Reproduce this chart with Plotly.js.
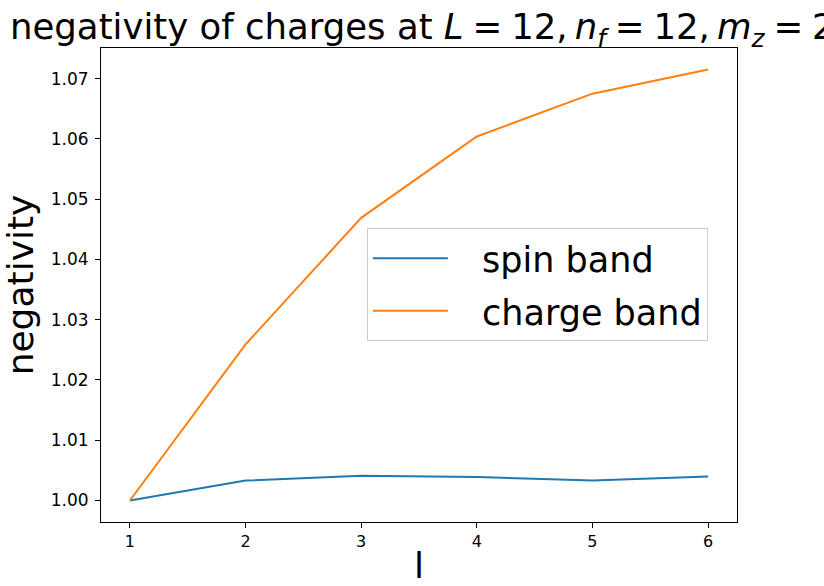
<!DOCTYPE html>
<html>
<head>
<meta charset="utf-8">
<script src="https://cdn.plot.ly/plotly-3.0.1.min.js"></script>
<style>html,body{margin:0;padding:0;background:#fff;}#chart{width:824px;height:586px;}</style>
</head>
<body>
<div id="chart"></div>
<script>
const lValues = [1, 2, 3, 4, 5, 6];
const spinBand = [1.0000, 1.0033, 1.0041, 1.0039, 1.0033, 1.0040];
const chargeBand = [1.0000, 1.0259, 1.0469, 1.0604, 1.0675, 1.0715];
const seriesNames = ['spin band', 'charge band'];
const xTicks = [1, 2, 3, 4, 5, 6];
const yTicks = [1.00, 1.01, 1.02, 1.03, 1.04, 1.05, 1.06, 1.07];

const font = 'DejaVu Sans, sans-serif';
const pad = '\u00a0\u00a0\u2009';
const eq = '\u2005=\u2005';
const traces = [
  {x: lValues, y: spinBand, name: pad + seriesNames[0], mode: 'lines', legendgroup: 'a',
   line: {color: '#1f77b4', width: 2}},
  {x: lValues, y: chargeBand, name: pad + seriesNames[1], mode: 'lines', legendgroup: 'b',
   line: {color: '#ff7f0e', width: 2}}
];
const layout = {
  width: 824, height: 586,
  margin: {l: 101, r: 87, t: 48, b: 64},
  paper_bgcolor: '#fff', plot_bgcolor: '#fff',
  font: {family: font, color: '#000'},
  title: {
    text: 'negativity of charges at <i>L</i>' + eq + '12,\u2009<i>n</i><sub><i>f</i></sub>' + eq + '12,\u2009<i>m</i><sub><i>z</i></sub>' + eq + '2',
    font: {size: 35.5, family: font, color: '#000'},
    x: 10/824, xanchor: 'left', xref: 'container',
    y: 1 - 27/586, yanchor: 'middle', yref: 'container'
  },
  xaxis: {
    range: [0.75, 6.25], tickvals: xTicks, ticktext: xTicks.map(String),
    showgrid: false, zeroline: false, showline: true, mirror: true,
    linecolor: '#000', linewidth: 1, ticks: 'outside', ticklen: 5, tickcolor: '#000',
    tickfont: {size: 16, family: font, color: '#000'},
    title: {text: 'l', font: {size: 36, family: font, color: '#000'}, standoff: 16}
  },
  yaxis: {
    range: [0.99643, 1.07508], tickvals: yTicks, ticktext: yTicks.map(v => v.toFixed(2)),
    showgrid: false, zeroline: false, showline: true, mirror: true,
    linecolor: '#000', linewidth: 1, ticks: 'outside', ticklen: 5, tickcolor: '#000',
    tickfont: {size: 17, family: font, color: '#000'}, ticklabelstandoff: 3,
    title: {text: 'negativity', font: {size: 36, family: font, color: '#000'}, standoff: 8}
  },
  showlegend: true,
  legend: {
    x: 0.418, y: 0.62, xanchor: 'left', yanchor: 'top',
    bgcolor: 'rgba(255,255,255,0.8)', bordercolor: '#cccccc', borderwidth: 1,
    font: {size: 35, family: font, color: '#000'},
    tracegroupgap: 4, itemwidth: 75
  }
};
Plotly.newPlot('chart', traces, layout, {displayModeBar: false, staticPlot: true});
</script>
</body>
</html>
